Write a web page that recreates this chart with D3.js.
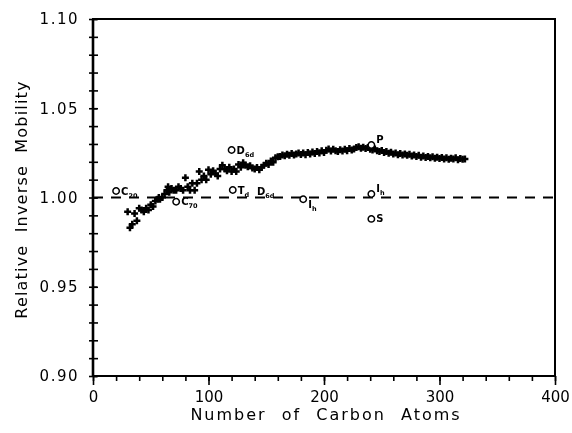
<html>
<head>
<meta charset="utf-8">
<title>Relative Inverse Mobility</title>
<style>
  body { margin: 0; padding: 0; background: #fff; }
  svg { filter: grayscale(1); }
  text { font-family: "DejaVu Sans", sans-serif; fill: #000; }
  .axis path { display: none; }
  .axis line { stroke: #000; stroke-width: 1.6; }
  .axis text { font-size: 15px; }
  .mark { font-size: 10px; font-weight: bold; }
</style>
</head>
<body>
<div id="chart"></div>
<script src="https://d3js.org/d3.v7.min.js"></script>
<script>
// scattered points at low carbon numbers [carbons, relative inverse mobility]
var sparsePoints = [
  [30, 0.992], [32, 0.983], [34, 0.985], [36, 0.991], [38, 0.987], [40, 0.994],
  [42, 0.993], [44, 0.992], [46, 0.994], [48, 0.993], [50, 0.996], [52, 0.995],
  [54, 0.998], [56, 0.999], [57, 1.000], [58, 0.999], [60, 1.000], [62, 1.002],
  [64, 1.004], [65, 1.006], [66, 1.003], [68, 1.005], [70, 1.004], [72, 1.004],
  [74, 1.006], [76, 1.005], [78, 1.004], [80, 1.011], [82, 1.006], [84, 1.004],
  [86, 1.008], [88, 1.004], [90, 1.008], [92, 1.0145], [94, 1.010], [96, 1.012],
  [98, 1.010], [100, 1.0155], [102, 1.013], [104, 1.015], [106, 1.0135], [108, 1.012],
  [110, 1.016], [112, 1.018], [114, 1.016], [116, 1.015], [118, 1.017], [120, 1.0145],
  [122, 1.016], [124, 1.0145]
];

// dense band, carbons 126..322 every 2
var bandStart = 126, bandStep = 2;
var bandValues = [
  1.0185, 1.0170, 1.0195, 1.0180, 1.0172, 1.0178, 1.0165, 1.0160, 1.0168, 1.0155,
  1.0170, 1.0180, 1.0192, 1.0185, 1.0205, 1.0198, 1.0222, 1.0228, 1.0230, 1.0238,
  1.0234, 1.0242, 1.0236, 1.0247, 1.0238, 1.0244, 1.0250, 1.0241, 1.0249, 1.0240,
  1.0252, 1.0244, 1.0255, 1.0246, 1.0258, 1.0250, 1.0262, 1.0252, 1.0265, 1.0272,
  1.0260, 1.0270, 1.0262, 1.0258, 1.0268, 1.0260, 1.0270, 1.0262, 1.0275, 1.0266,
  1.0272, 1.0280, 1.0285, 1.0276, 1.0282, 1.0275, 1.0280, 1.0270, 1.0266, 1.0272,
  1.0262, 1.0258, 1.0264, 1.0252, 1.0258, 1.0248, 1.0254, 1.0244, 1.0250, 1.0240,
  1.0246, 1.0238, 1.0244, 1.0236, 1.0242, 1.0232, 1.0238, 1.0230, 1.0236, 1.0226,
  1.0232, 1.0224, 1.0230, 1.0222, 1.0228, 1.0220, 1.0226, 1.0218, 1.0224, 1.0216,
  1.0222, 1.0214, 1.0220, 1.0216, 1.0222, 1.0212, 1.0218, 1.0214, 1.0216
];

// labelled structures: carbons, value, letter, subscript, label placement, circle drawn?
var structures = [
  { c: 20,  v: 1.0036, name: "C", sub: "20", pos: "right", circle: true },
  { c: 72,  v: 0.9976, name: "C", sub: "70", pos: "right", circle: true },
  { c: 120, v: 1.0266, name: "D", sub: "6d", pos: "right", circle: true },
  { c: 121, v: 1.0042, name: "T", sub: "d",  pos: "right", circle: true },
  { c: 142, v: 1.0036, name: "D", sub: "6d", pos: "label", circle: false },
  { c: 182, v: 0.9990, name: "I", sub: "h",  pos: "below", circle: true },
  { c: 241, v: 1.0294, name: "P", sub: "",   pos: "above", circle: true },
  { c: 241, v: 1.0020, name: "I", sub: "h",  pos: "above", circle: true },
  { c: 241, v: 0.9880, name: "S", sub: "",   pos: "right", circle: true }
];

var xTicks = [0, 100, 200, 300, 400];
var yTicks = [0.90, 0.95, 1.00, 1.05, 1.10];
var reference = 1.00;

var width = 572, height = 433;
var margin = { top: 19, right: 17, bottom: 57, left: 93 };

var svg = d3.select("#chart").append("svg")
    .attr("width", width)
    .attr("height", height);

var x = d3.scaleLinear().domain([0, 400]).range([margin.left, width - margin.right]);
var y = d3.scaleLinear().domain([0.90, 1.10]).range([height - margin.bottom, margin.top]);

// minor ticks
svg.append("g")
    .attr("class", "axis")
    .attr("transform", "translate(0," + y(0.90) + ")")
    .call(d3.axisBottom(x).tickValues(d3.range(0, 401, 20)).tickSize(5).tickFormat(""));

svg.append("g")
    .attr("class", "axis")
    .attr("transform", "translate(" + x(0) + ",0)")
    .call(d3.axisLeft(y).tickValues(d3.range(90, 111, 1).map(function (d) { return d / 100; })).tickFormat(""))
    .selectAll(".tick line").attr("x1", -4).attr("x2", 5);

// major ticks with labels
svg.append("g")
    .attr("class", "axis")
    .attr("transform", "translate(0," + y(0.90) + ")")
    .call(d3.axisBottom(x).tickValues(xTicks).tickSize(9).tickPadding(6).tickFormat(d3.format("d")));

var yAxis = svg.append("g")
    .attr("class", "axis")
    .attr("transform", "translate(" + x(0) + ",0)")
    .call(d3.axisLeft(y).tickValues(yTicks).tickSize(10).tickPadding(4).tickFormat(d3.format(".2f")));
yAxis.selectAll(".tick line").attr("x2", 4);
yAxis.selectAll(".tick text").attr("letter-spacing", 1.5);

// frame
svg.append("rect")
    .attr("x", x(0))
    .attr("y", y(1.10))
    .attr("width", x(400) - x(0))
    .attr("height", y(0.90) - y(1.10))
    .attr("fill", "none")
    .attr("stroke", "#000")
    .attr("stroke-width", 2);
svg.append("line")
    .attr("x1", x(0)).attr("x2", x(0))
    .attr("y1", y(1.10)).attr("y2", y(0.90))
    .attr("stroke", "#000").attr("stroke-width", 2.6);

// reference dashed line
svg.append("line")
    .attr("x1", x(0)).attr("x2", x(400))
    .attr("y1", y(reference)).attr("y2", y(reference))
    .attr("stroke", "#000")
    .attr("stroke-width", 2)
    .attr("stroke-dasharray", "10,8");

// crosses
var points = sparsePoints.map(function (d) { return { c: d[0], v: d[1] }; })
    .concat(bandValues.map(function (v, i) { return { c: bandStart + i * bandStep, v: v }; }));

var plus = {
    draw: function (ctx) {
        ctx.moveTo(-3.5, 0); ctx.lineTo(3.5, 0);
        ctx.moveTo(0, -3.5); ctx.lineTo(0, 3.5);
    }
};

svg.append("g")
    .selectAll("path")
    .data(points)
    .enter()
    .append("path")
    .attr("transform", function (d) { return "translate(" + x(d.c) + "," + y(d.v) + ")"; })
    .attr("d", d3.symbol().type(plus))
    .attr("stroke", "#000")
    .attr("stroke-width", 2.5)
    .attr("fill", "none");

// structure circles and labels
var marks = svg.append("g")
    .selectAll("g")
    .data(structures)
    .enter()
    .append("g")
    .attr("transform", function (d) { return "translate(" + x(d.c) + "," + y(d.v) + ")"; });

marks.filter(function (d) { return d.circle; })
    .append("circle")
    .attr("r", 3.2)
    .attr("fill", "#fff")
    .attr("stroke", "#000")
    .attr("stroke-width", 1.5);

var label = marks.append("text")
    .attr("class", "mark")
    .attr("x", function (d) { return d.pos === "label" ? 0 : 5; })
    .attr("y", function (d) {
        if (d.pos === "above") return -2;
        if (d.pos === "below") return 9;
        return 3.5;
    });
label.append("tspan").text(function (d) { return d.name; });
label.append("tspan")
    .attr("dy", 3)
    .attr("font-size", "6.5px")
    .text(function (d) { return d.sub; });

// axis titles
svg.append("text")
    .attr("x", (x(0) + x(400)) / 2 + 2)
    .attr("y", 420)
    .attr("text-anchor", "middle")
    .attr("font-size", "16px")
    .attr("letter-spacing", 2)
    .attr("word-spacing", 8)
    .text("Number of Carbon Atoms");

svg.append("text")
    .attr("transform", "translate(27," + (y(1.00) + 2) + ") rotate(-90)")
    .attr("text-anchor", "middle")
    .attr("font-size", "16px")
    .attr("letter-spacing", 1.2)
    .attr("word-spacing", 6)
    .text("Relative Inverse Mobility");
</script>
</body>
</html>
